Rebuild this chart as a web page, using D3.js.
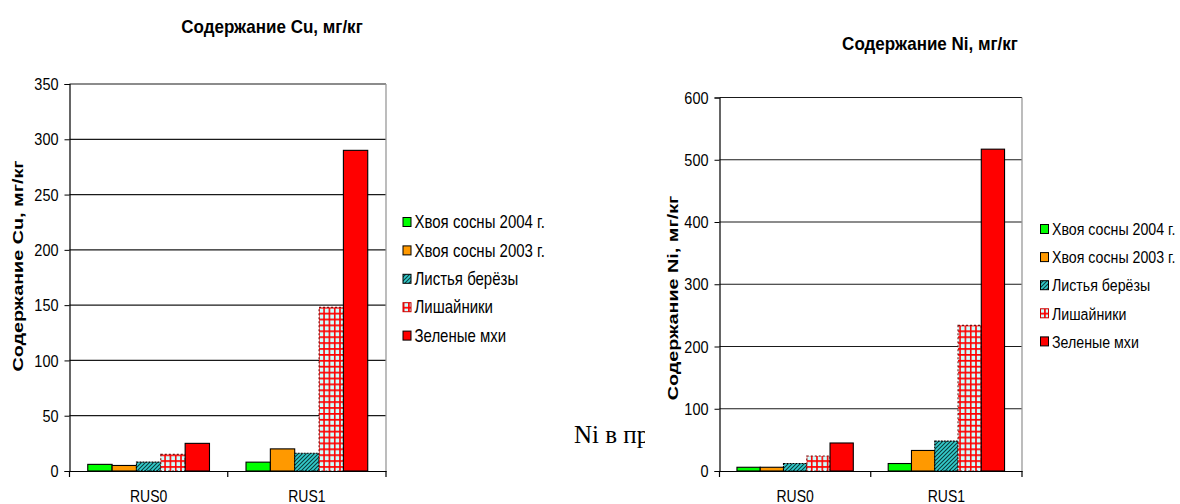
<!DOCTYPE html>
<html>
<head>
<meta charset="utf-8">
<script src="https://cdn.jsdelivr.net/npm/d3@7"></script>
<style>
  html, body { margin: 0; padding: 0; background: #fff; }
  svg { display: block; font-family: "Liberation Sans", Arial, sans-serif; }
</style>
</head>
<body>
<svg id="chart" width="1180" height="504"></svg>
<script>
// ---------- DATA ----------
const categories = ["RUS0", "RUS1"];
const seriesNames = ["Хвоя сосны 2004 г.", "Хвоя сосны 2003 г.", "Листья берёзы", "Лишайники", "Зеленые мхи"];
// Cu, мг/кг : one array per series, values for [RUS0, RUS1]
const cuPine2004 = [6, 8];
const cuPine2003 = [5, 20];
const cuBirch = [8, 16];
const cuLichen = [15, 148];
const cuMoss = [25, 290];
// Ni, мг/кг
const niPine2004 = [6, 12];
const niPine2003 = [6, 33];
const niBirch = [12, 48];
const niLichen = [24, 234];
const niMoss = [45, 517];
// tick values
const cuTicks = [0, 50, 100, 150, 200, 250, 300, 350];
const niTicks = [0, 100, 200, 300, 400, 500, 600];
const cuTitle = "Содержание Cu, мг/кг";
const niTitle = "Содержание Ni, мг/кг";
const strayText = "Ni в пробах";

// ---------- SETUP ----------
const svg = d3.select("#chart");
const SY = 1.2; // vertical stretch of the reference text
const defs = svg.append("defs");

const hatch = defs.append("pattern").attr("id", "hatch")
  .attr("patternUnits", "userSpaceOnUse").attr("width", 4).attr("height", 4);
hatch.append("rect").attr("width", 4).attr("height", 4).attr("fill", "#33CCCC");
hatch.append("path").attr("d", "M-1,1 l2,-2 M0,4 l4,-4 M3,5 l2,-2")
  .attr("stroke", "#0b3b3b").attr("stroke-width", 1.1);

const grid = defs.append("pattern").attr("id", "grid")
  .attr("patternUnits", "userSpaceOnUse").attr("width", 5.3).attr("height", 5.9);
grid.append("rect").attr("width", 5.3).attr("height", 5.9).attr("fill", "#CCFFFF");
grid.append("path").attr("d", "M0.8,0 V5.9 M0,0.8 H5.3")
  .attr("stroke", "#FF0000").attr("stroke-width", 1.6);

const fills = ["#00FF00", "#FF9900", "url(#hatch)", "url(#grid)", "#FF0000"];
const strokes = ["#000", "#000", "#000", "#7a1010", "#000"];
const dashes = [null, null, "2,1", "2,2", null];

// stray background text (partly covered by the right chart)
svg.append("text").attr("x", 574).attr("y", 443)
  .attr("font-family", "Liberation Serif, Times New Roman, serif")
  .attr("font-size", 25).attr("fill", "#000").text(strayText);

function stretchedText(g, x, y, str, size, weight, anchor, sy) {
  return g.append("text")
    .attr("transform", `translate(${x},${y}) scale(1,${sy || SY})`)
    .attr("font-size", size).attr("font-weight", weight || "normal")
    .attr("text-anchor", anchor || "start").attr("fill", "#000").text(str);
}

function drawChart(cfg) {
  const g = svg.append("g");
  if (cfg.bg) {
    g.append("rect").attr("x", cfg.bg[0]).attr("y", cfg.bg[1])
      .attr("width", cfg.bg[2]).attr("height", cfg.bg[3]).attr("fill", "#fff");
  }
  const y = d3.scaleLinear().domain([0, cfg.max]).range([cfg.y0, cfg.yTop]);
  const x0 = d3.scaleBand().domain(categories).range([cfg.xl, cfg.xr])
    .paddingInner(1.5 / 6.5).paddingOuter(0.75 / 6.5);
  const x1 = d3.scaleBand().domain(d3.range(seriesNames.length))
    .range([0, x0.bandwidth()]);

  // gridlines
  g.append("g").selectAll("line").data(cfg.ticks.slice(1)).join("line")
    .attr("x1", cfg.xl).attr("x2", cfg.xr)
    .attr("y1", d => y(d)).attr("y2", d => y(d))
    .attr("stroke", "#1a1a1a").attr("stroke-width", 1.2);
  // right border
  g.append("line").attr("x1", cfg.xr).attr("x2", cfg.xr)
    .attr("y1", cfg.yTop).attr("y2", cfg.y0)
    .attr("stroke", "#999").attr("stroke-width", 1.3);

  // bars
  cfg.series.forEach((vals, si) => {
    g.append("g").selectAll("rect").data(vals.map((v, ci) => ({ v, c: categories[ci] })))
      .join("rect")
      .attr("x", d => x0(d.c) + x1(si))
      .attr("width", x1.bandwidth())
      .attr("y", d => y(d.v))
      .attr("height", d => y(0) - y(d.v))
      .attr("fill", fills[si])
      .attr("stroke", strokes[si])
      .attr("stroke-width", 1.1)
      .attr("stroke-dasharray", dashes[si]);
  });

  // y axis
  const ya = g.append("g").attr("transform", `translate(${cfg.xl},0)`)
    .call(d3.axisLeft(y).tickValues(cfg.ticks).tickSize(5).tickPadding(6));
  ya.select(".domain").attr("stroke", "#000").attr("stroke-width", 1.2);
  ya.selectAll(".tick line").attr("stroke", "#000");
  ya.selectAll(".tick text")
    .attr("font-size", 14.5).attr("font-family", "Liberation Sans, Arial, sans-serif")
    .attr("fill", "#000")
    .attr("transform", `scale(1,${SY})`);

  // x axis
  const xa = g.append("g").attr("transform", `translate(0,${cfg.y0})`)
    .call(d3.axisBottom(x0).tickSize(0).tickPadding(16));
  xa.select(".domain").attr("stroke", "#000").attr("stroke-width", 1.2);
  xa.selectAll(".tick text")
    .attr("font-size", 14).attr("font-family", "Liberation Sans, Arial, sans-serif")
    .attr("fill", "#000")
    .attr("transform", `scale(1,${SY})`);
  // category boundary ticks
  const bounds = [cfg.xl].concat(categories.map(c => x0(c) + x0.bandwidth() + x0.step() * x0.paddingInner() / 2));
  bounds[bounds.length - 1] = cfg.xr;
  g.append("g").selectAll("line").data(bounds).join("line")
    .attr("x1", d => d).attr("x2", d => d)
    .attr("y1", cfg.y0).attr("y2", cfg.y0 + 6)
    .attr("stroke", "#000").attr("stroke-width", 1.2);

  // title
  stretchedText(g, cfg.titleX, cfg.titleY, cfg.title, 17, "bold", "middle", 1.1);
  // y title
  g.append("text")
    .attr("transform", `translate(${cfg.yTitleX},${cfg.yTitleY}) rotate(-90) scale(1.32,1)`)
    .attr("font-size", 15).attr("font-weight", "bold")
    .attr("text-anchor", "middle").attr("fill", "#000").text(cfg.title);

  // legend
  seriesNames.forEach((name, i) => {
    const cy = cfg.legY + i * cfg.legDy;
    g.append("rect").attr("x", cfg.legX).attr("y", cy - 4.5)
      .attr("width", 8).attr("height", 9)
      .attr("fill", fills[i]).attr("stroke", i === 3 ? "#c00" : "#000").attr("stroke-width", 1);
    stretchedText(g, cfg.legX + 11.5, cy + 6.2, name, cfg.legFont, "normal", "start");
  });
}

drawChart({
  xl: 69.5, xr: 386, yTop: 84, y0: 471, max: 350, ticks: cuTicks,
  series: [cuPine2004, cuPine2003, cuBirch, cuLichen, cuMoss],
  title: cuTitle, titleX: 272, titleY: 33, yTitleX: 22.5, yTitleY: 266,
  legX: 403, legY: 222, legDy: 28.4, legFont: 15
});

drawChart({
  bg: [645, 0, 535, 504],
  xl: 719.5, xr: 1022, yTop: 97.5, y0: 471, max: 600, ticks: niTicks,
  series: [niPine2004, niPine2003, niBirch, niLichen, niMoss],
  title: niTitle, titleX: 930, titleY: 50, yTitleX: 677.5, yTitleY: 298,
  legX: 1040.5, legY: 229, legDy: 28.1, legFont: 14.2
});
</script>
</body>
</html>
